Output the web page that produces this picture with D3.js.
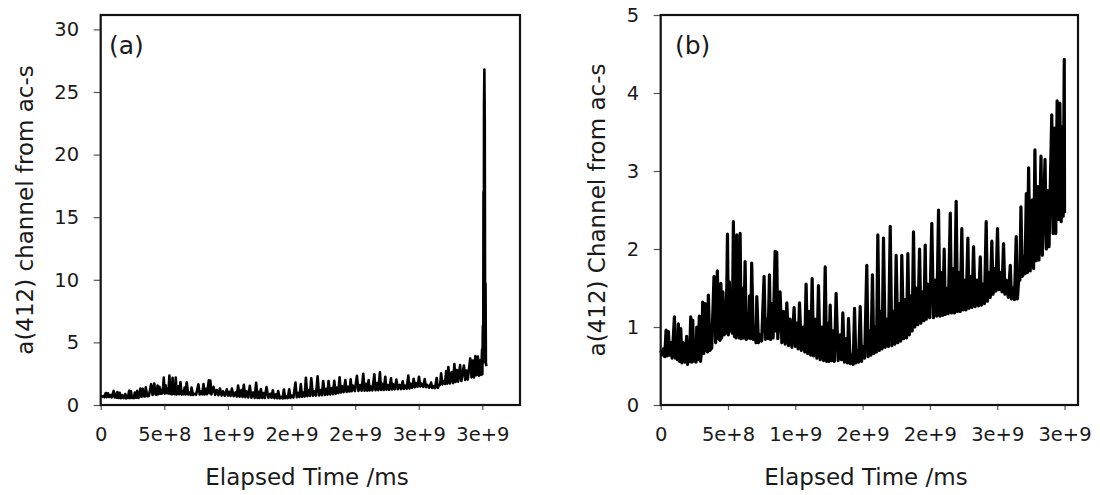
<!DOCTYPE html>
<html>
<head>
<meta charset="utf-8">
<script src="https://cdn.jsdelivr.net/npm/d3@7"></script>
<style>
  body { margin: 0; background: #fff; }
  svg text { font-family: "DejaVu Sans", sans-serif; fill: #1a1a1a; }
</style>
</head>
<body>
<svg id="drawing_region" width="1100" height="495"></svg>
<script>
// elapsed time in units of 1e9 ms
const baseTime = [
  0.000,0.010,0.020,0.030,0.040,0.048,0.057,0.066,0.074,0.085,0.102,0.110,0.119,0.125,0.131,0.140,0.149,0.158,0.168,0.180,
  0.193,0.200,0.206,0.214,0.223,0.230,0.238,0.246,0.255,0.262,0.268,0.278,0.287,0.296,0.305,0.312,0.320,0.330,0.336,0.342,
  0.348,0.354,0.366,0.379,0.396,0.408,0.421,0.431,0.441,0.447,0.453,0.462,0.471,0.481,0.491,0.496,0.503,0.510,0.518,0.525,
  0.532,0.540,0.548,0.553,0.560,0.565,0.572,0.577,0.584,0.590,0.598,0.608,0.616,0.627,0.636,0.644,0.652,0.660,0.668,0.676,
  0.688,0.701,0.708,0.714,0.726,0.738,0.750,0.768,0.778,0.788,0.798,0.808,0.816,0.825,0.835,0.850,0.856,0.862,0.870,0.887,
  0.900,0.912,0.925,0.937,0.950,0.961,0.975,0.991,1.001,1.011,1.021,1.031,1.045,1.060,1.070,1.080,1.092,1.105,1.115,1.125,
  1.136,1.147,1.160,1.172,1.185,1.197,1.210,1.222,1.232,1.239,1.249,1.259,1.270,1.279,1.290,1.303,1.318,1.333,1.343,1.353,
  1.365,1.378,1.387,1.395,1.408,1.420,1.430,1.440,1.450,1.457,1.470,1.482,1.492,1.501,1.515,1.531,1.541,1.551,1.562,1.573,
  1.583,1.593,1.603,1.613,1.624,1.635,1.645,1.655,1.668,1.680,1.692,1.705,1.717,1.729,1.739,1.749,1.762,1.774,1.783,1.791,
  1.804,1.816,1.826,1.836,1.847,1.858,1.868,1.878,1.888,1.898,1.910,1.923,1.933,1.943,1.955,1.965,1.973,1.982,1.998,2.014,
  2.026,2.039,2.051,2.064,2.074,2.084,2.095,2.106,2.114,2.121,2.136,2.151,2.160,2.170,2.182,2.195,2.204,2.213,2.225,2.237,
  2.246,2.255,2.268,2.282,2.290,2.299,2.312,2.324,2.336,2.349,2.361,2.374,2.383,2.393,2.405,2.418,2.427,2.436,2.448,2.460,
  2.469,2.478,2.490,2.502,2.512,2.522,2.535,2.547,2.557,2.567,2.582,2.597,2.606,2.616,2.628,2.641,2.650,2.659,2.668,2.676,
  2.686,2.696,2.706,2.716,2.724,2.733,2.745,2.760,2.770,2.780,2.790,2.800,2.810,2.825,2.835,2.855,2.865,2.875,2.885,2.905,
  2.915,2.925,2.935,2.945,2.955,2.965,2.975,2.985,2.990,2.998,3.000
];
const baseValue = [
  0.70,0.64,0.72,0.62,0.96,0.63,0.94,0.64,0.80,0.60,1.13,0.60,0.90,0.58,1.04,0.56,0.98,0.54,0.80,0.55,
  0.88,0.52,0.72,0.56,1.13,0.55,1.09,0.56,0.70,0.55,1.00,0.58,1.14,0.56,0.72,1.32,0.66,1.30,0.70,0.73,
  0.68,1.41,0.70,0.73,1.65,0.80,1.72,0.85,0.83,1.56,0.86,1.45,0.90,0.92,1.50,2.19,0.90,1.58,0.95,1.30,
  0.92,2.35,0.88,1.60,0.86,2.18,0.90,1.40,0.86,2.20,0.85,1.50,0.86,1.84,0.84,1.10,0.86,1.40,0.85,1.82,
  0.84,1.00,0.80,1.39,0.80,0.90,0.82,1.65,0.84,1.10,0.85,1.67,0.84,1.30,0.86,1.97,0.95,1.96,0.85,1.45,
  0.80,1.20,0.78,1.31,0.76,1.10,0.74,1.25,0.75,1.05,0.72,1.31,0.70,1.00,0.68,1.55,0.66,1.20,0.64,1.62,
  0.63,1.10,0.60,1.53,0.58,1.00,0.57,1.77,0.56,1.05,0.56,1.28,0.57,0.95,0.56,1.43,0.57,0.90,0.58,1.18,
  0.55,0.85,0.54,1.11,0.53,0.65,0.52,1.24,0.54,0.70,0.55,1.26,0.56,0.75,0.60,1.79,0.62,0.95,0.64,1.67,
  0.66,1.00,0.68,2.18,0.70,1.20,0.72,2.14,0.74,1.10,0.75,2.29,0.76,1.20,0.78,1.92,0.80,1.30,0.82,1.92,
  0.85,1.35,0.86,1.94,0.90,1.40,0.95,2.22,1.00,1.50,1.03,2.00,1.05,1.45,1.08,2.05,1.10,1.55,1.12,2.33,
  1.12,1.60,1.14,2.50,1.14,1.70,1.15,2.00,1.16,1.50,1.17,2.46,1.18,1.75,1.18,2.61,1.20,1.70,1.20,2.26,
  1.22,1.60,1.22,2.14,1.24,1.65,1.25,2.03,1.26,1.60,1.27,1.90,1.28,1.55,1.30,2.35,1.33,1.70,1.38,2.10,
  1.42,1.75,1.46,2.26,1.48,1.70,1.45,2.07,1.42,1.60,1.38,1.79,1.36,1.50,1.35,2.16,1.36,1.60,1.60,2.54,
  1.65,1.90,1.68,2.71,1.70,3.04,1.72,2.63,1.75,3.27,1.85,2.80,1.86,3.19,1.92,3.15,2.00,2.75,2.03,3.72,
  2.20,3.55,2.20,3.90,2.38,3.87,2.35,3.57,2.42,4.43,2.46
];
// extra spike at the end, only in panel (a)
const spikeTime = [3.004,3.007,3.009,3.011,3.013,3.016,3.019,3.022,3.025,3.028,3.033];
const spikeValue = [6.3,3.4,17.0,3.8,23.8,26.8,22.6,4.0,9.7,3.3,3.1];

const xTicks = [0, 5e8, 1e9, 1.5e9, 2e9, 2.5e9, 3e9];
const yTicksA = [0, 5, 10, 15, 20, 25, 30];
const yTicksB = [0, 1, 2, 3, 4, 5];

const seriesB = baseTime.map((t, i) => ({ time: t * 1e9, value: baseValue[i] }));
const seriesA = seriesB.concat(spikeTime.map((t, i) => ({ time: t * 1e9, value: spikeValue[i] })));

class LinePanel {

    constructor( config, data ) {
        this.config = config;
        this.data = data;
        this.init();
    }

    init() {
        let self = this;
        const c = self.config;

        self.svg = d3.select( c.parent );
        self.chart = self.svg.append('g');

        self.xscale = d3.scaleLinear()
            .domain( c.xdomain )
            .range( [c.left, c.right] );

        self.yscale = d3.scaleLinear()
            .domain( c.ydomain )
            .range( [c.bottom, c.top] );

        const fmt = d3.format('.0e');
        self.xaxis = d3.axisBottom( self.xscale )
            .tickValues( xTicks )
            .tickFormat( d => d === 0 ? '0' : fmt(d) )
            .tickSizeOuter(0)
            .tickSize(5)
            .tickPadding(17);

        self.yaxis = d3.axisLeft( self.yscale )
            .tickValues( c.yticks )
            .tickFormat( d3.format('d') )
            .tickSizeOuter(0)
            .tickSize(7)
            .tickPadding(14.5);
    }

    render() {
        let self = this;
        const c = self.config;

        const line = d3.line()
            .x( d => self.xscale(d.time) )
            .y( d => self.yscale(d.value) );

        self.chart.append('path')
            .datum( self.data )
            .attr('d', line)
            .attr('fill', 'none')
            .attr('stroke', '#000')
            .attr('stroke-width', c.lineWidth)
            .attr('stroke-linejoin', 'round');

        const xg = self.chart.append('g')
            .attr('transform', `translate(0, ${c.bottom})`)
            .call( self.xaxis );
        const yg = self.chart.append('g')
            .attr('transform', `translate(${c.left}, 0)`)
            .call( self.yaxis );

        [xg, yg].forEach( g => {
            g.select('.domain').remove();
            g.selectAll('.tick line').attr('stroke', '#555').attr('stroke-width', 1.2);
            g.selectAll('.tick text')
                .attr('font-family', '"DejaVu Sans", sans-serif')
                .attr('font-size', 19.5)
                .attr('fill', '#1a1a1a');
        });

        self.chart.append('rect')
            .attr('x', c.left)
            .attr('y', c.top)
            .attr('width', c.right - c.left)
            .attr('height', c.bottom - c.top)
            .attr('fill', 'none')
            .attr('stroke', '#111')
            .attr('stroke-width', 2.2);

        self.chart.append('text')
            .attr('x', c.panelX)
            .attr('y', 54)
            .attr('font-size', 25)
            .text( c.panel );

        self.chart.append('text')
            .attr('x', c.xTitleX)
            .attr('y', 485)
            .attr('text-anchor', 'middle')
            .attr('font-size', 23)
            .text('Elapsed Time /ms');

        self.chart.append('text')
            .attr('transform', `translate(${c.yTitleX}, 210) rotate(-90)`)
            .attr('dy', '0.35em')
            .attr('text-anchor', 'middle')
            .attr('font-size', 23)
            .text( c.ytitle );
    }
}

const panelA = new LinePanel({
    parent: '#drawing_region',
    left: 100.7, right: 520, top: 15, bottom: 405,
    xdomain: [0, 3.296e9], ydomain: [0, 31.15], yticks: yTicksA,
    lineWidth: 2.6, panel: '(a)', panelX: 109,
    xTitleX: 307, yTitleX: 25,
    ytitle: 'a(412) channel from ac-s'
}, seriesA);
panelA.render();

const panelB = new LinePanel({
    parent: '#drawing_region',
    left: 660.7, right: 1078, top: 15, bottom: 405,
    xdomain: [0, 3.1e9], ydomain: [0, 5], yticks: yTicksB,
    lineWidth: 3.2, panel: '(b)', panelX: 675,
    xTitleX: 866, yTitleX: 597,
    ytitle: 'a(412) Channel from ac-s'
}, seriesB);
panelB.render();
</script>
</body>
</html>
